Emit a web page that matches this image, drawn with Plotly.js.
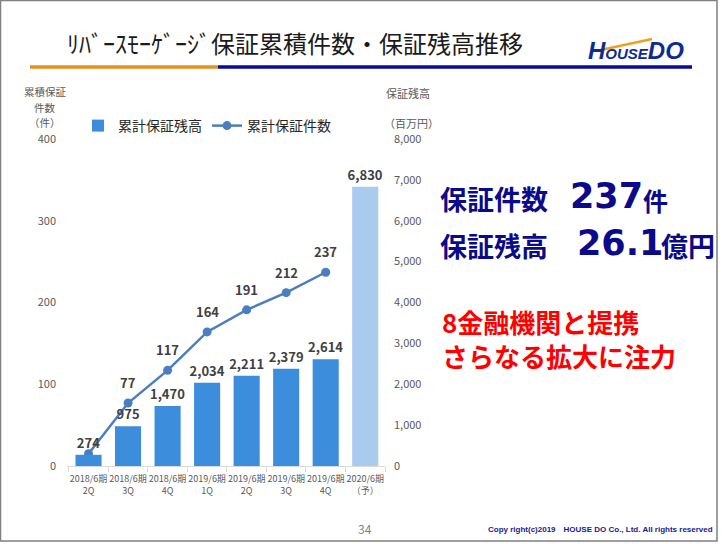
<!DOCTYPE html>
<html>
<head>
<meta charset="utf-8">
<script src="https://cdn.plot.ly/plotly-3.0.1.min.js"></script>
<style>html,body{margin:0;padding:0;background:#fff;}#chart{width:722px;height:544px;}</style>
</head>
<body>
<div id="chart"></div>
<script>
// ---- data ----
const categories = ["2018/6期<br>2Q","2018/6期<br>3Q","2018/6期<br>4Q","2019/6期<br>1Q","2019/6期<br>2Q","2019/6期<br>3Q","2019/6期<br>4Q","2020/6期<br>（予）"];
const balance = [274, 975, 1470, 2034, 2211, 2379, 2614, 6830];      // 累計保証残高 (百万円)
const countCats = categories.slice(0, 7);
const counts = [15, 77, 117, 164, 191, 212, 237];                    // 累計保証件数 (件)
const countLabels = ["", "77", "117", "164", "191", "212", "237"];
const barColors = ["#3c8ddc","#3c8ddc","#3c8ddc","#3c8ddc","#3c8ddc","#3c8ddc","#3c8ddc","#a9cbee"];
const leftTicks = [0, 100, 200, 300, 400];
const rightTicks = [0, 1000, 2000, 3000, 4000, 5000, 6000, 7000, 8000];

// ---- layout helpers (pixel -> paper) ----
const L = 67, R = 385, T = 139, B = 466;
const px = x => (x - L) / (R - L);
const py = y => (B - y) / (B - T);
const JP = '"Noto Sans CJK JP", "Noto Sans", sans-serif';
const NUM = '"DejaVu Sans", sans-serif';
const NAVY = '#0a0a8a';

const traces = [
  {
    type: 'bar', name: '累計保証残高', x: categories, y: balance, yaxis: 'y2',
    marker: {color: barColors}, width: 0.66,
    text: balance.map(v => v.toLocaleString('en-US')), textposition: 'outside', constraintext: 'none',
    textfont: {family: JP, size: 13, color: '#404040', weight: 'bold'},
    cliponaxis: false, hoverinfo: 'skip'
  },
  {
    type: 'scatter', mode: 'lines+markers', name: '累計保証件数', x: countCats, y: counts, yaxis: 'y',
    line: {color: '#4a7ebf', width: 2.5}, marker: {color: '#4a7ebf', size: 9},
    cliponaxis: false, hoverinfo: 'skip'
  }
];

const annotations = [];
countCats.forEach((c, i) => {
  if (countLabels[i]) annotations.push({
    x: c, y: counts[i], xref: 'x', yref: 'y', text: countLabels[i], showarrow: false,
    yanchor: 'bottom', yshift: 9, font: {family: JP, size: 13, color: '#404040', weight: 'bold'}
  });
});

function txt(x, y, text, size, color, opts) {
  return Object.assign({xref: 'paper', yref: 'paper', x: px(x), y: py(y), text: text, showarrow: false,
    xanchor: 'left', yanchor: 'middle', font: {family: JP, size: size, color: color}}, opts || {});
}
annotations.push(
  txt(65, 42, 'ﾘﾊﾞｰｽﾓｰｹﾞｰｼﾞ保証累積件数・保証残高推移', 24, '#1a1a1a'),
  txt(45, 92, '累積保証', 10.5, '#595959', {xanchor: 'center'}),
  txt(45, 107, '件数', 10.5, '#595959', {xanchor: 'center'}),
  txt(45, 123, '（件）', 10.5, '#595959', {xanchor: 'center'}),
  txt(384, 93, '保証残高', 11, '#595959'),
  txt(382, 123, '（百万円）', 11, '#595959'),
  txt(438, 198, '<b>保証件数</b>', 27, NAVY),
  txt(568, 196, '<b>237</b>', 35, NAVY, {font: {family: NUM, size: 35, color: NAVY}}),
  txt(641, 200, '<b>件</b>', 25, NAVY),
  txt(438, 245, '<b>保証残高</b>', 27, NAVY),
  txt(575, 243, '<b>26.1</b>', 35, NAVY, {font: {family: NUM, size: 35, color: NAVY}}),
  txt(659, 245, '<b>億円</b>', 27, NAVY),
  txt(440, 321, '<b>8金融機関と提携</b>', 26, '#ff0000'),
  txt(440, 355, '<b>さらなる拡大に注力</b>', 26, '#ff0000'),
  txt(365, 528, '34', 12, '#7f7f7f', {xanchor: 'center'}),
  txt(715, 529, '<b>Copy right(c)2019　HOUSE DO Co., Ltd. All rights reserved</b>', 8, '#1a1a8c', {xanchor: 'right', font: {family: '"Liberation Sans", Arial, sans-serif', size: 8, color: '#1a1a8c'}}),
  txt(586, 51, '<b><i>H<span style="font-size:15px">OUSE</span>DO</i></b>', 24, '#0e2a96', {font: {family: '"Liberation Sans", Arial, sans-serif', size: 24, color: '#0e2a96'}})
);

const shapes = [
  {type: 'rect', xref: 'paper', yref: 'paper', x0: px(0.5), x1: px(717), y0: py(0.5), y1: py(541), line: {color: '#808080', width: 1.5}},
  {type: 'line', xref: 'paper', yref: 'paper', x0: px(30), x1: px(218), y0: py(67), y1: py(67), line: {color: '#e8901c', width: 3.5}},
  {type: 'line', xref: 'paper', yref: 'paper', x0: px(218), x1: px(692), y0: py(67), y1: py(67), line: {color: '#0b0b96', width: 3.5}},
  {type: 'line', xref: 'paper', yref: 'paper', x0: px(596), x1: px(652), y0: py(51), y1: py(39), line: {color: '#f0a020', width: 2.5}}
];

const layout = {
  width: 722, height: 544,
  margin: {l: L, r: 722 - R, t: T, b: 544 - B, pad: 0},
  paper_bgcolor: '#ffffff', plot_bgcolor: '#ffffff',
  font: {family: JP, color: '#595959'},
  showlegend: true,
  legend: {orientation: 'h', x: px(78), y: py(126), xanchor: 'left', yanchor: 'middle',
    font: {family: JP, size: 14, color: '#262626'}, itemwidth: 30, traceorder: 'normal', bgcolor: 'rgba(0,0,0,0)'},
  bargap: 0.34,
  xaxis: {type: 'category', tickson: 'boundaries', ticks: 'outside', ticklen: 5, tickcolor: '#d9d9d9',
    showline: true, linecolor: '#d9d9d9', linewidth: 1, showgrid: false, ticklabelstandoff: 4,
    tickfont: {family: JP, size: 9, color: '#595959'}, tickangle: 0, fixedrange: true},
  yaxis: {range: [0, 400], tickvals: leftTicks, showgrid: false, zeroline: false, showline: false,
    tickfont: {family: JP, size: 11, color: '#595959'}, ticks: '', ticklabelstandoff: 10},
  yaxis2: {range: [0, 8000], tickvals: rightTicks, tickformat: ',', overlaying: 'y', side: 'right',
    showgrid: false, zeroline: false, showline: false,
    tickfont: {family: JP, size: 11, color: '#595959'}, ticks: '', ticklabelstandoff: 8},
  annotations: annotations,
  shapes: shapes
};

Plotly.newPlot('chart', traces, layout, {displayModeBar: false, staticPlot: true});
</script>
</body>
</html>
